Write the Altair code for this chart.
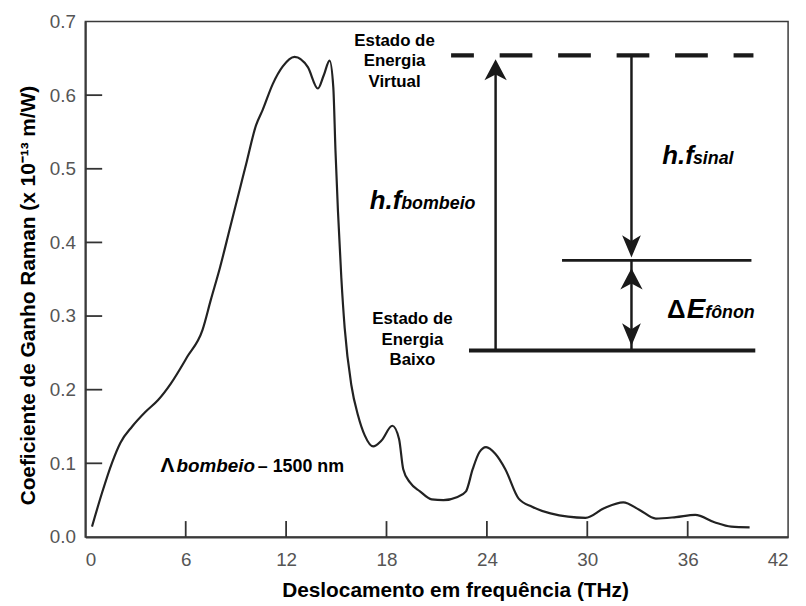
import altair as alt
import pandas as pd

# ---------------- data ----------------
freq = [0.4, 1.0, 1.6, 2.1, 2.8, 3.6, 4.35, 5.1, 6.1, 7.0, 7.5, 8.05, 8.65, 9.25,
        9.65, 10.2, 10.6, 11.2, 11.8, 12.5, 13.3, 13.9, 14.25, 14.6, 14.82, 14.95,
        15.1, 15.3, 15.5, 15.9, 16.3, 16.7, 17.2, 17.7, 18.35, 18.75, 19.0, 19.4,
        20.0, 20.7, 21.4, 22.2, 22.75, 23.15, 23.55, 23.95, 24.5, 25.1, 25.9, 26.7,
        27.8, 29.9, 31.0, 32.15, 33.1, 34.1, 35.3, 36.45, 37.6, 38.6, 39.7]
gain = [0.014, 0.060, 0.101, 0.128, 0.150, 0.170, 0.186, 0.208, 0.245, 0.281, 0.322,
        0.366, 0.420, 0.474, 0.510, 0.559, 0.580, 0.615, 0.639, 0.652, 0.638, 0.609,
        0.627, 0.647, 0.611, 0.525, 0.442, 0.352, 0.284, 0.206, 0.165, 0.138, 0.123,
        0.131, 0.151, 0.133, 0.092, 0.074, 0.062, 0.051, 0.050, 0.054, 0.062, 0.092,
        0.115, 0.122, 0.113, 0.092, 0.052, 0.041, 0.032, 0.026, 0.039, 0.047, 0.037,
        0.025, 0.027, 0.030, 0.020, 0.014, 0.013]

x_tick_values = [0, 6, 12, 18, 24, 30, 36, 42]
y_tick_values = [0.0, 0.1, 0.2, 0.3, 0.4, 0.5, 0.6, 0.7]
inner_x_ticks = [6, 12, 18, 24, 30, 36]
inner_y_ticks = [0.1, 0.2, 0.3, 0.4, 0.5, 0.6]

# energy-level diagram (in data units)
virtual_x1, virtual_x2, virtual_y = [21.86], [39.93], [0.654]
solid_x1 = [28.49, 22.93]
solid_x2 = [39.81, 40.04]
solid_y = [0.3756, 0.2531]
solid_w = [3.0, 4.0]

arrow_x = [24.52, 32.64, 32.64]
arrow_y1 = [0.2531, 0.654, 0.3756]
arrow_y2 = [0.640, 0.392, 0.2531]

head_up_x = [24.52, 32.64]
head_up_y = [0.6489, 0.3648]
head_down_x = [32.64, 32.64]
head_down_y = [0.3796, 0.2598]

# text annotations
state_text = ["Estado de", "Energia", "Virtual", "Estado de", "Energia", "Baixo"]
state_x = [18.48, 18.48, 18.48, 19.55, 19.55, 19.55]
state_y = [0.6664, 0.6394, 0.6112, 0.2894, 0.2612, 0.2342]

ital_text = ["h.f", "h.f", "E", "bombeio", "sinal", "fônon", "bombeio"]
ital_x = [17.0, 34.48, 35.95, 18.88, 36.31, 37.05, 5.45]
ital_y = [0.4456, 0.5062, 0.2975, 0.4456, 0.5062, 0.2975, 0.0888]
ital_size = [26, 26, 28, 18, 18, 18, 19]

up_text = ["Δ", "Λ", "– 1500 nm"]
up_x = [34.77, 4.50, 10.31]
up_y = [0.2975, 0.0888, 0.0888]
up_size = [26, 21, 18]

# ---------------- chart ----------------
FONT = "Liberation Sans"
INK = "#1a1a1a"
xs = alt.Scale(domain=[0, 42], nice=False, zero=False)
ys = alt.Scale(domain=[0, 0.7], nice=False, zero=False)
x_axis = alt.Axis(values=x_tick_values, title="Deslocamento em frequência (THz)",
                  labelPadding=14, titlePadding=10, format="d", titleX=373)
y_axis = alt.Axis(values=y_tick_values, title="Coeficiente de Ganho Raman (x 10⁻¹³ m/W)",
                  labelPadding=10, titlePadding=11, format=".1f", titleY=276)
X = alt.X("x:Q", scale=xs, axis=x_axis)
Y = alt.Y("y:Q", scale=ys, axis=y_axis)

curve_df = pd.DataFrame({"x": freq, "y": gain})
curve = alt.Chart(curve_df).mark_line(
    interpolate="monotone", color="#222222", strokeWidth=2.2
).encode(x=X, y=Y)

xt = alt.Chart(pd.DataFrame({"x": inner_x_ticks})).mark_rule(
    color="#333333", strokeWidth=1.8
).encode(x=X, y=alt.value(520), y2=alt.value(504))

yt = alt.Chart(pd.DataFrame({"y": inner_y_ticks})).mark_rule(
    color="#333333", strokeWidth=1.8
).encode(y=Y, x=alt.value(0), x2=alt.value(17))

virtual = alt.Chart(pd.DataFrame({"x": virtual_x1, "x2": virtual_x2, "y": virtual_y})).mark_rule(
    color=INK, strokeWidth=4.5, strokeDash=[33, 26], strokeDashOffset=10
).encode(x=X, x2="x2:Q", y=Y)

levels = alt.Chart(pd.DataFrame({"x": solid_x1, "x2": solid_x2, "y": solid_y, "w": solid_w})).mark_rule(
    color=INK
).encode(x=X, x2="x2:Q", y=Y,
         strokeWidth=alt.StrokeWidth("w:Q", scale=None, legend=None))

arrows = alt.Chart(pd.DataFrame({"x": arrow_x, "y": arrow_y1, "y2": arrow_y2})).mark_rule(
    color=INK, strokeWidth=2.5
).encode(x=X, y=Y, y2="y2:Q")

UP = "M0,0 L0.95,1.8 L0,1.3 L-0.95,1.8 Z"
DOWN = "M0,0 L0.8,-1.9 L0,-1.4 L-0.8,-1.9 Z"
heads_up = alt.Chart(pd.DataFrame({"x": head_up_x, "y": head_up_y})).mark_point(
    shape=UP, filled=True, size=560, color=INK, opacity=1
).encode(x=X, y=Y)
heads_down = alt.Chart(pd.DataFrame({"x": head_down_x, "y": head_down_y})).mark_point(
    shape=DOWN, filled=True, size=560, color=INK, opacity=1
).encode(x=X, y=Y)

states = alt.Chart(pd.DataFrame({"t": state_text, "x": state_x, "y": state_y})).mark_text(
    font=FONT, fontWeight="bold", fontSize=17, color="black", align="center", baseline="alphabetic"
).encode(x=X, y=Y, text="t:N")

ital = alt.Chart(pd.DataFrame({"t": ital_text, "x": ital_x, "y": ital_y, "s": ital_size})).mark_text(
    font=FONT, fontWeight="bold", fontStyle="italic", color="black", align="left", baseline="alphabetic"
).encode(x=X, y=Y, text="t:N", size=alt.Size("s:Q", scale=None, legend=None))

upright = alt.Chart(pd.DataFrame({"t": up_text, "x": up_x, "y": up_y, "s": up_size})).mark_text(
    font=FONT, fontWeight="bold", color="black", align="left", baseline="alphabetic"
).encode(x=X, y=Y, text="t:N", size=alt.Size("s:Q", scale=None, legend=None))

chart = alt.layer(
    curve, xt, yt, virtual, levels, arrows, heads_up, heads_down, states, ital, upright
).properties(
    width=709, height=520,
    autosize=alt.AutoSizeParams(type="none"),
    padding={"left": 78, "top": 11, "right": 10, "bottom": 64},
    background="white",
).configure_view(
    stroke="#3a3a3a", strokeWidth=1.5
).configure_axis(
    grid=False, ticks=False, tickSize=0,
    domainColor="#3a3a3a", domainWidth=2,
    labelFont=FONT, labelFontSize=19, labelColor="#555555",
    titleFont=FONT, titleFontSize=21, titleFontWeight="bold", titleColor="black",
)

chart.save("out.html", embed_options={"renderer": "svg", "actions": False})
